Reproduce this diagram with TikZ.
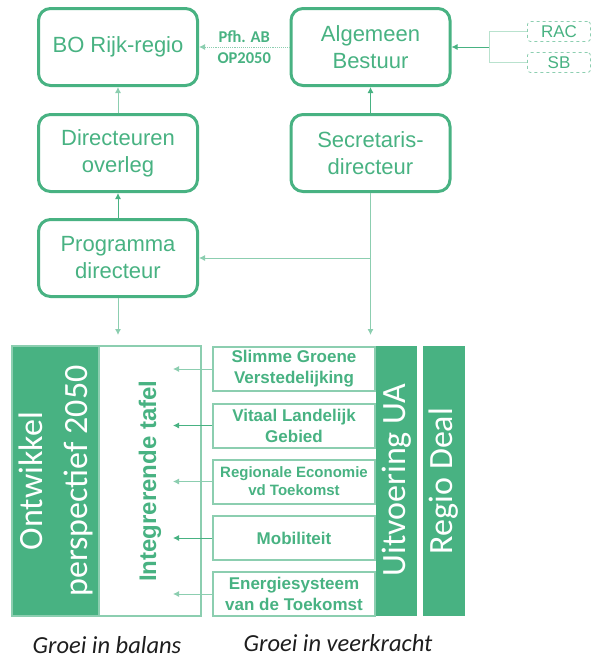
\documentclass[tikz,border=0pt]{standalone}
\usepackage{fontspec}
\setmainfont{Liberation Sans}
\newfontfamily\calfont{Carlito}
\usetikzlibrary{arrows.meta}
\definecolor{grn}{RGB}{72,178,130}
\definecolor{lgrn}{RGB}{140,206,176}
\definecolor{fgrn}{RGB}{185,226,206}
\definecolor{dark}{RGB}{30,30,30}
\begin{document}
\begin{tikzpicture}[x=1pt,y=-1pt,
  topbox/.style={draw=grn, line width=3pt, rounded corners=12pt, minimum width=159pt, minimum height=77pt, inner sep=0pt, align=center, text=grn, font=\fontsize{22}{27}\selectfont},
  tagbox/.style={draw=lgrn, dashed, line width=0.8pt, rounded corners=3pt, minimum width=63pt, minimum height=20pt, inner sep=0pt, text=grn, font=\fontsize{17}{20}\selectfont},
  themebox/.style={draw=lgrn, line width=2pt, minimum width=162pt, minimum height=44pt, inner sep=0pt, align=center, text=grn, font=\bfseries\fontsize{17}{21}\selectfont},
  block/.style={fill=grn, draw=lgrn, line width=1.5pt, inner sep=0pt, minimum height=270pt},
  vtext/.style={rotate=90, text=white, align=center, font=\calfont\fontsize{34}{45}\selectfont},
  conn/.style={draw=grn, line width=0.9pt, -{Latex[length=6pt,width=6pt]}},
  lconn/.style={draw=lgrn, line width=0.9pt, -{Latex[length=6pt,width=6pt]}},
  faint/.style={draw=fgrn, line width=0.8pt},
  caption/.style={text=dark, font=\calfont\itshape\fontsize{24.5}{28}\selectfont}
]
\useasboundingbox (0,0) rectangle (592,662);

% top organisation boxes
\node[topbox] (bo)   at (118,47)    {BO Rijk-regio};
\node[topbox] (ab)   at (370.5,47)  {Algemeen\\Bestuur};
\node[topbox] (dir)  at (118,153)   {Directeuren\\overleg};
\node[topbox] (sec)  at (370.5,153) {Secretaris-\\directeur};
\node[topbox] (prog) at (118,258)   {Programma\\directeur};
\node[tagbox] (rac)  at (559,31.5)  {RAC};
\node[tagbox] (sb)   at (559,62.5)  {SB};

% bottom blocks
\node[block, draw=lgrn, fill=white, minimum width=189pt] (integ) at (106.5,481) {};
\node[block, minimum width=87pt] (ontw) at (55.5,481) {};
\node[vtext] (ontwt) at (56,481) {Ontwikkel\\perspectief 2050};
\node[rotate=90, text=grn, font=\bfseries\fontsize{24}{28}\selectfont] (integt) at (150,481) {Integrerende tafel};

\node[themebox] (t1) at (294,369)   {Slimme Groene\\Verstedelijking};
\node[themebox] (t2) at (294,425.5) {Vitaal Landelijk\\Gebied};
\node[themebox, font=\bfseries\fontsize{15}{18}\selectfont] (t3) at (294,481.5) {Regionale Economie\\vd Toekomst};
\node[themebox] (t4) at (294,538)   {Mobiliteit};
\node[themebox] (t5) at (294,594)   {Energiesysteem\\van de Toekomst};

\node[block, draw=none, minimum width=41pt] (uitv) at (396.5,481) {};
\node[vtext] (uitvt) at (397,480) {Uitvoering UA};
\node[block, draw=none, minimum width=42pt] (regio) at (444,481) {};
\node[vtext] (regiot) at (444,481) {Regio Deal};

\node[caption] (cap1) at (107,645) {Groei in balans};
\node[caption] (cap2) at (338,643) {Groei in veerkracht};

% connectors top
\coordinate (j) at (489,47);
\draw[faint] (rac.west) -| (j);
\draw[faint] (sb.west) -| (j);
\draw[conn] (j) -- (ab.east);
\draw[lconn, densely dotted] (ab.west) -- (bo.east)
  node[midway, text=grn, align=center, font=\calfont\bfseries\fontsize{16.5}{21}\selectfont] (pfh) {Pfh. AB\\OP2050};
\draw[lconn] (dir.north) -- (bo.south);
\draw[conn] (prog.north) -- (dir.south);
\draw[conn] (sec.north) -- (ab.south);

% connectors down
\coordinate (d1) at (118,335);
\coordinate (d2) at (370.5,335);
\draw[lconn] (prog.south) -- (d1);
\draw[lconn] (sec.south) -- (d2);
\draw[lconn] (sec.south |- prog.east) -- (prog.east);

% theme arrows into integrerende tafel
\coordinate (a1) at (173,369);
\coordinate (a2) at (173,425.5);
\coordinate (a3) at (173,481.5);
\coordinate (a4) at (173,538);
\coordinate (a5) at (173,594);
\draw[lconn] (t1.west) -- (a1);
\draw[conn]  (t2.west) -- (a2);
\draw[lconn] (t3.west) -- (a3);
\draw[conn]  (t4.west) -- (a4);
\draw[lconn] (t5.west) -- (a5);
\end{tikzpicture}
\end{document}
